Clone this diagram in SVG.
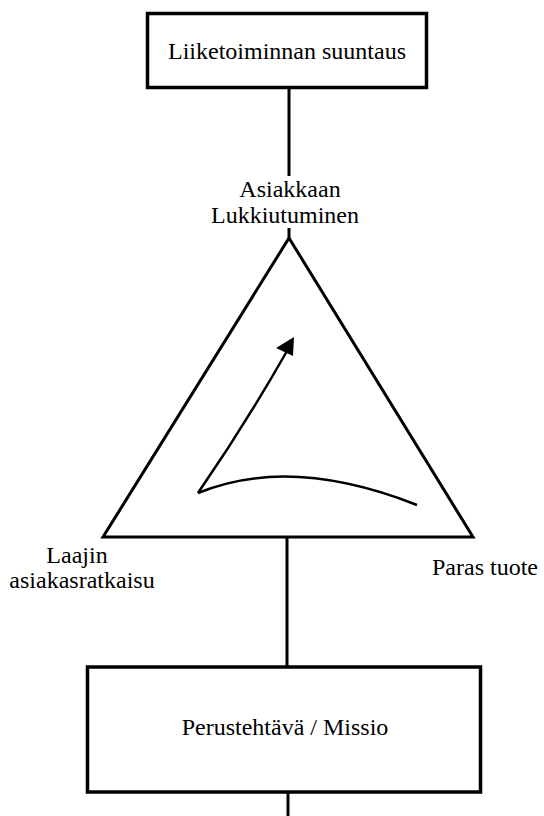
<svg xmlns="http://www.w3.org/2000/svg" width="544" height="816" viewBox="0 0 544 816">
<style>
.box{fill:#fff;stroke:#000;stroke-width:3.5}
.ln{fill:none;stroke:#000;stroke-width:3}
.cv{fill:none;stroke:#000;stroke-width:2.5}
text{font-family:'Liberation Serif','DejaVu Serif','Times New Roman',serif;font-size:24px;fill:#000;text-anchor:middle}
</style>
<rect width="544" height="816" fill="#fff"/>
<g id="connectors">
<line class="ln" x1="289" y1="87" x2="289" y2="176"/>
<line class="ln" x1="289" y1="228" x2="289" y2="239"/>
<line class="ln" x1="287" y1="537" x2="287" y2="667"/>
<line class="ln" x1="288" y1="792" x2="288" y2="816"/>
</g>
<g id="top">
<rect class="box" x="147.5" y="13.5" width="279" height="74"/>
<text x="287" y="59">Liiketoiminnan suuntaus</text>
</g>
<g id="triangle">
<polygon class="ln" points="289,238 103,537 473,537"/>
<path class="cv" d="M198,493 Q245,425 287,351"/>
<path class="cv" d="M198,493 Q290,455 417,505"/>
<polygon points="294,337 276,348 293,356" fill="#000"/>
</g>
<g id="apex-label">
<text x="290" y="197">Asiakkaan</text>
<text x="285" y="223">Lukkiutuminen</text>
</g>
<g id="left-label">
<text x="77" y="563">Laajin</text>
<text x="82" y="588">asiakasratkaisu</text>
</g>
<g id="right-label">
<text x="485" y="575">Paras tuote</text>
</g>
<g id="mission">
<rect class="box" x="87.5" y="667" width="393" height="125"/>
<text x="285" y="735">Perustehtävä / Missio</text>
</g>
</svg>
